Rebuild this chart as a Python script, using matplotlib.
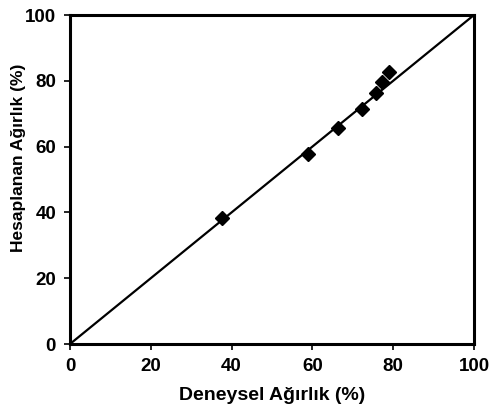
import matplotlib
matplotlib.use("Agg")
from matplotlib import pyplot as plt

# deneysel ve hesaplanan agirlik yuzdeleri
deneysel = [37.6, 58.9, 66.3, 72.3, 75.7, 77.2, 79.0]
hesaplanan = [38.3, 57.8, 65.7, 71.4, 76.3, 79.6, 82.7]

# y = x referans dogrusu
ref = [0, 100]

plt.rcParams['font.family'] = ['Liberation Sans', 'DejaVu Sans']

fig = plt.figure(figsize=(4.94, 4.11), dpi=100)
ax = fig.add_axes([70/494, 1 - 344/411, 404/494, 329/411])

ax.plot(ref, ref, color='black', lw=1.6)
ax.plot(deneysel, hesaplanan, linestyle='none', marker='D', ms=7.5,
        color='black', markeredgecolor='black')

ax.set_xlim(0, 100)
ax.set_ylim(0, 100)
ax.set_xticks([0, 20, 40, 60, 80, 100])
ax.set_yticks([0, 20, 40, 60, 80, 100])
for s in ax.spines.values():
    s.set_linewidth(2.2)
ax.tick_params(direction='out', length=4, width=1.2, labelsize=13.5, pad=6)
for lbl in ax.get_xticklabels() + ax.get_yticklabels():
    lbl.set_fontweight('bold')

ax.set_xlabel('Deneysel Ağırlık (%)', fontsize=14, fontweight='bold')
ax.set_ylabel('Hesaplanan Ağırlık (%)', fontsize=12.5, fontweight='bold')
ax.xaxis.set_label_coords(0.5, -0.13)
ax.yaxis.set_label_coords(-0.108, 0.565)

fig.savefig('out.png', dpi=100)
